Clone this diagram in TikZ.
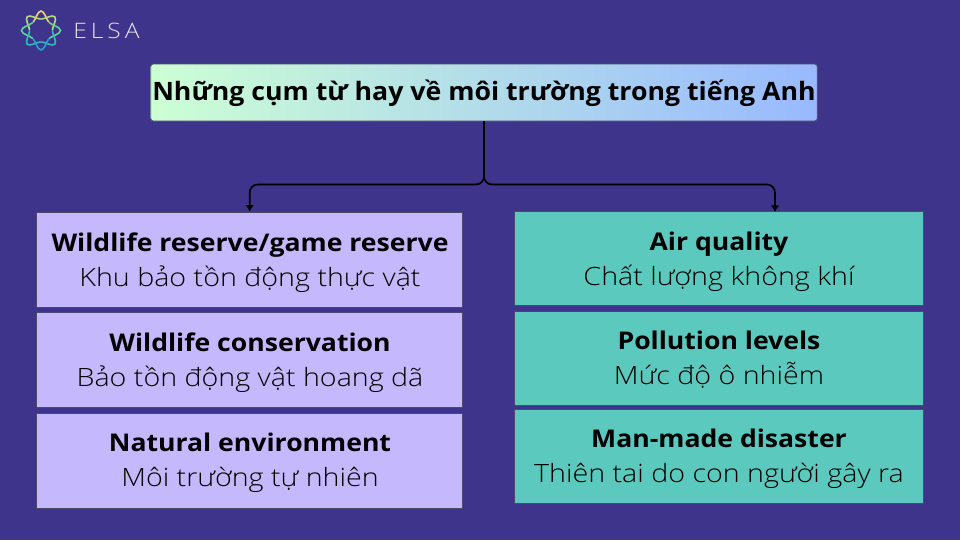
\documentclass[tikz,border=0pt]{standalone}
\usepackage{fontspec}
\setmainfont{Open Sans}
\newfontfamily\hdfont[FakeStretch=1.09]{Open Sans}
\newfontfamily\ttlfont[FakeStretch=1.054]{Open Sans}
\newfontfamily\sbfont[FakeStretch=1.136]{Open Sans Light}
\newfontfamily\lgfont[FakeStretch=1.15]{Open Sans Light}
\usetikzlibrary{arrows.meta,shadings}
\definecolor{bgc}{HTML}{3F348B}
\definecolor{lav}{HTML}{C5B8FD}
\definecolor{teal}{HTML}{5CC9BE}
\definecolor{gL}{HTML}{CCFFD4}
\definecolor{gR}{HTML}{98B9FF}
\definecolor{edgec}{HTML}{4A4A68}
\tikzset{x=0.75pt,y=-0.75pt,
 lavbox/.style={draw=edgec,line width=0.5pt,fill=lav,text=black,minimum width=319.5pt,minimum height=71.25pt,inner sep=0pt},
 tealbox/.style={draw=edgec,line width=0.5pt,fill=teal,text=black,minimum width=306.75pt,minimum height=70.5pt,inner sep=0pt},
 conn/.style={draw=black,line width=1.3pt,rounded corners=6pt},
 tip/.style={-{Latex[length=5pt,width=6.5pt]}},
 hd/.style={font=\hdfont\fontsize{18.3}{22}\bfseries,text=black,inner sep=0pt,anchor=base},
 sb/.style={font=\sbfont\fontsize{18.9}{22}\selectfont,text=black,inner sep=0pt,anchor=base},
}
\begin{document}
\begin{tikzpicture}
\useasboundingbox (0,0) rectangle (960,540);
\fill[bgc] (0,0) rectangle (960,540);
% logo
\begin{scope}[shift={(41,30.5)}]
 \foreach \a/\c in {-90/F0D078,-45/B0DC7C,-135/B0DC7C,0/5FD49C,180/5FD49C,45/30BCB8,135/30BCB8,90/2A9FD0}{
  \definecolor{pc}{HTML}{\c}
  \draw[line width=1.2pt,color=pc,line cap=round]
    (\a-42:11.5) .. controls (\a-24:12.5) and (\a-11:19.5) .. (\a:19.5)
    .. controls (\a+11:19.5) and (\a+24:12.5) .. (\a+42:11.5);
 }
\end{scope}
\node[inner sep=0pt,text=white!85!bgc,font=\lgfont\fontsize{16}{18}\selectfont,anchor=west] (logo) at (73,31) {E\kern3pt L\kern3pt S\kern3pt A};
% title
\node[rounded corners=2pt,draw=edgec,line width=0.5pt,left color=gL,right color=gR,minimum width=499.9pt,minimum height=42.75pt,inner sep=0pt] (title) at (484,92.5) {};
\node[font=\ttlfont\fontsize{19}{22}\bfseries,text=black,inner sep=0pt,anchor=base] (titletext) at (484,100) {Những cụm từ hay về môi trường trong tiếng Anh};
% boxes
\node[lavbox] (l1) at (249.7,259.5) {};
\node[lavbox] (l2) at (249.7,360) {};
\node[lavbox] (l3) at (249.7,460.5) {};
\node[tealbox] (r1) at (719,258.5) {};
\node[tealbox] (r2) at (719,358) {};
\node[tealbox] (r3) at (719,456.5) {};
\node[hd] (l1h) at (250,251) {Wildlife reserve/game reserve};
\node[sb] (l1s) at (250,286) {Khu bảo tồn động thực vật};
\node[hd] (l2h) at (250,351) {Wildlife conservation};
\node[sb] (l2s) at (250,386) {Bảo tồn động vật hoang dã};
\node[hd] (l3h) at (250,451) {Natural environment};
\node[sb] (l3s) at (250,486) {Môi trường tự nhiên};
\node[hd] (r1h) at (719,250) {Air quality};
\node[sb] (r1s) at (719,285) {Chất lượng không khí};
\node[hd] (r2h) at (719,349) {Pollution levels};
\node[sb] (r2s) at (719,384) {Mức độ ô nhiễm};
\node[hd] (r3h) at (719,447) {Man-made disaster};
\node[sb] (r3s) at (719,482) {Thiên tai do con người gây ra};
% connectors
\coordinate (split) at (484,184.5);
\coordinate (rtop) at (775,212);
\draw[conn,tip] (title.south -| split) -- (split) -- (l1.north |- split) -- (l1.north);
\draw[conn,tip] (title.south -| split) -- (split) -- (rtop |- split) -- (rtop);
\end{tikzpicture}
\end{document}
